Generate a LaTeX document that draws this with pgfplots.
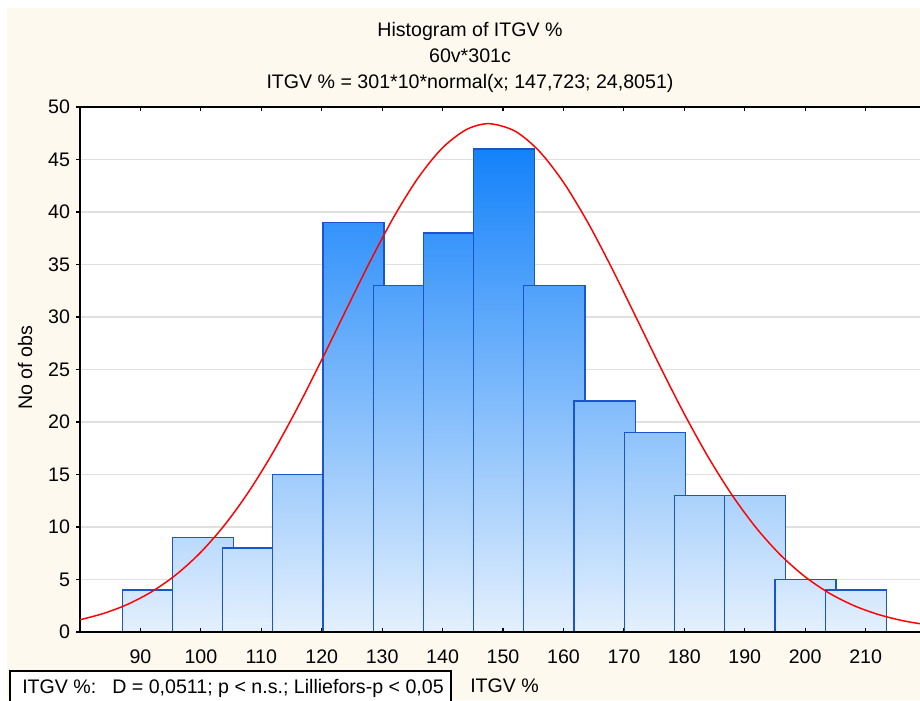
\documentclass[border=0pt]{standalone}
\usepackage{fontspec}
\setmainfont{Liberation Sans}
\usepackage{pgfplots}
\pgfplotsset{compat=1.18}

\definecolor{bgcream}{RGB}{253,249,238}
\definecolor{barTop}{RGB}{20,130,250}
\definecolor{barBot}{RGB}{228,240,253}
\definecolor{barEdge}{RGB}{25,85,205}
\definecolor{gridcol}{RGB}{224,224,224}

% bar fill: top colour follows the bar height (h/46 in percent)
\tikzset{hbar/.style={draw=barEdge, line width=0.9pt,
    top color=barTop!#1!barBot, bottom color=barBot}}

\pgfplotsset{frame/.style={
    at={(60pt,51pt)}, anchor=south west,
    scale only axis, width=630pt, height=393.75pt,
    xmin=80, xmax=219, ymin=0, ymax=50,
    xtick={90,100,...,210}, ytick={0,5,...,50},
    major tick length=3pt,
    tick style={black, line width=0.8pt},
    axis line style={black, line width=0.9pt},
    ticklabel style={font=\fontsize{14.7}{17}\selectfont},
    /pgf/number format/assume math mode=true}}

\begin{document}
\begin{tikzpicture}[x=0.75pt,y=0.75pt,font=\fontsize{14.7}{17}\selectfont]
\useasboundingbox (0,0) rectangle (920,700);
\fill[white] (0,0) rectangle (920,700);
\fill[bgcream] (7,0) rectangle (920,692);

\begin{axis}[frame,
    axis x line*=box, axis y line*=left,
    xtick pos=both, xticklabel pos=lower, ytick pos=left,
    xtick align=inside, ytick align=outside,
    ymajorgrids, grid style={gridcol, line width=1.1pt},
    axis background/.style={fill=white},
    xticklabel style={yshift=-10pt},
    yticklabel style={xshift=-1pt},
  ]
  % histogram bars, drawn left to right (each overlaps the previous one)
  \addplot[hbar=9]   coordinates {(86.97,0)(86.97,4)(97.07,4)(97.07,0)} \closedcycle;
  \addplot[hbar=20]  coordinates {(95.28,0)(95.28,9)(105.38,9)(105.38,0)} \closedcycle;
  \addplot[hbar=17]  coordinates {(103.59,0)(103.59,8)(113.69,8)(113.69,0)} \closedcycle;
  \addplot[hbar=33]  coordinates {(111.90,0)(111.90,15)(122.00,15)(122.00,0)} \closedcycle;
  \addplot[hbar=85]  coordinates {(120.21,0)(120.21,39)(130.31,39)(130.31,0)} \closedcycle;
  \addplot[hbar=72]  coordinates {(128.52,0)(128.52,33)(138.62,33)(138.62,0)} \closedcycle;
  \addplot[hbar=83]  coordinates {(136.83,0)(136.83,38)(146.93,38)(146.93,0)} \closedcycle;
  \addplot[hbar=100] coordinates {(145.14,0)(145.14,46)(155.24,46)(155.24,0)} \closedcycle;
  \addplot[hbar=72]  coordinates {(153.45,0)(153.45,33)(163.55,33)(163.55,0)} \closedcycle;
  \addplot[hbar=48]  coordinates {(161.76,0)(161.76,22)(171.86,22)(171.86,0)} \closedcycle;
  \addplot[hbar=41]  coordinates {(170.07,0)(170.07,19)(180.17,19)(180.17,0)} \closedcycle;
  \addplot[hbar=28]  coordinates {(178.38,0)(178.38,13)(188.48,13)(188.48,0)} \closedcycle;
  \addplot[hbar=28]  coordinates {(186.69,0)(186.69,13)(196.79,13)(196.79,0)} \closedcycle;
  \addplot[hbar=11]  coordinates {(195.00,0)(195.00,5)(205.10,5)(205.10,0)} \closedcycle;
  \addplot[hbar=9]   coordinates {(203.31,0)(203.31,4)(213.41,4)(213.41,0)} \closedcycle;

  % fitted normal curve, 301*10*normal(x; 147.723; 24.8051)
  \addplot[red, line width=1.1pt, smooth] coordinates {
    (80,1.165)(84,1.786)(88,2.668)(92,3.883)(96,5.505)(100,7.607)
    (104,10.239)(108,13.430)(112,17.162)(116,21.369)(120,25.924)
    (124,30.643)(128,35.290)(132,39.600)(136,43.295)(140,46.120)
    (144,47.868)(147.723,48.410)(152,47.696)(156,45.789)(160,42.830)
    (164,39.033)(168,34.660)(172,29.987)(176,25.279)(180,20.762)
    (184,16.615)(188,12.955)(192,9.842)(196,7.285)(200,5.254)
    (204,3.692)(208,2.528)(212,1.686)(216,1.096)(220,0.694)};
\end{axis}

% bottom axis line and inner ticks again, on top of the bars
\begin{axis}[frame,
    axis x line*=bottom, axis y line=none,
    xtick align=inside, xticklabels={},
  ]
\end{axis}

% titles
\node[anchor=base] at (470,663.3) {Histogram of ITGV \%};
\node[anchor=base] at (470,637) {60v*301c};
\node[anchor=base] at (470,611) {ITGV \% = 301*10*normal(x; 147,723; 24,8051)};

% y label
\node[rotate=90, anchor=base] at (32,332) {No of obs};

% bottom statistics box and x label
\draw[fill=white, line width=0.8pt] (10,-2) rectangle (451,29);
\node[anchor=base west, inner sep=0] at (22,7) {ITGV \%:\hspace{12pt}D = 0,0511; p < n.s.; Lilliefors-p < 0,05};
\node[anchor=base west, inner sep=0] at (470,8) {ITGV \%};
\end{tikzpicture}
\end{document}
